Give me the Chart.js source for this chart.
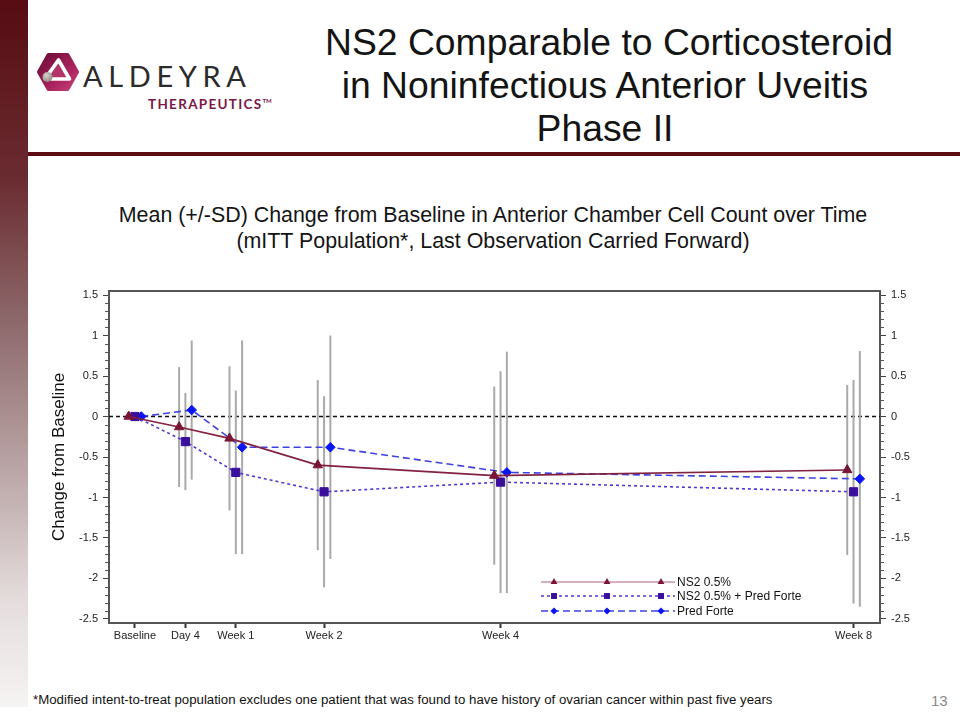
<!DOCTYPE html>
<html>
<head>
<meta charset="utf-8">
<script src="https://cdn.jsdelivr.net/npm/chart.js@4/dist/chart.umd.min.js"></script>
<style>
  html, body { margin: 0; padding: 0; background: #fff; width: 960px; height: 720px; overflow: hidden; }
  body { position: relative; font-family: "Liberation Sans", Arial, sans-serif; color: #111; }
  #sidebar { position: absolute; left: 0; top: 0; width: 28px; height: 707px;
    background: linear-gradient(to bottom, #560c12 0%, #6a2b30 25%, #8c676a 45%, #b7a1a2 65%, #e5dddd 85%, #f6f3f3 100%); }
  #rule { position: absolute; left: 28px; top: 152px; width: 932px; height: 4px; background: #5c0b10; }
  #title { position: absolute; left: 325px; width: 560px; top: 21px; text-align: center;
    font-size: 37.3px; line-height: 43px; color: #141414; white-space: nowrap; }
  #subtitle { position: absolute; left: 93px; width: 800px; top: 202px; text-align: center;
    font-size: 21.4px; line-height: 26px; color: #141414; white-space: nowrap; }
  #foot { position: absolute; left: 33px; top: 692px; font-size: 13.25px; line-height: 16px; color: #111; white-space: nowrap; }
  #page { position: absolute; left: 931px; top: 692px; font-size: 15px; line-height: 18px; color: #8a8a8a; }
  #logoText { position: absolute; left: 83px; top: 59px; font-family: Lato, "Liberation Sans", sans-serif; font-weight: 400;
    font-size: 29px; line-height: 34px; letter-spacing: 5.6px; color: #2b2b2b; white-space: nowrap; }
  #logoSub { position: absolute; left: 148px; top: 93px; font-family: Lato, "Liberation Sans", sans-serif; font-weight: 700;
    font-size: 13.5px; line-height: 16px; letter-spacing: 1.3px; color: #7a1848; white-space: nowrap; }
  #logoSub sup { font-size: 6px; vertical-align: 6px; letter-spacing: 0; }
  canvas { position: absolute; left: 0; top: 0; }
</style>
</head>
<body>
<div id="sidebar"></div>
<div id="rule"></div>
<svg style="position:absolute;left:35px;top:51px" width="46" height="42" viewBox="0 0 46 42">
  <defs>
    <linearGradient id="hexg" x1="0" y1="0" x2="1" y2="1">
      <stop offset="0" stop-color="#6a0d36"/>
      <stop offset="0.6" stop-color="#a8215c"/>
      <stop offset="1" stop-color="#c8407a"/>
    </linearGradient>
    <radialGradient id="ballg" cx="0.4" cy="0.35" r="0.7">
      <stop offset="0" stop-color="#d8d4ce"/>
      <stop offset="1" stop-color="#8c867e"/>
    </radialGradient>
  </defs>
  <polygon points="4,21 13.5,4 32.5,4 42,21 32.5,38 13.5,38" fill="url(#hexg)" stroke="url(#hexg)" stroke-width="4" stroke-linejoin="round"/>
  <polygon points="23.5,9 34.5,28 10,28" fill="#b2336a" stroke="#ffffff" stroke-width="3.6" stroke-linejoin="round"/>
  <circle cx="12.5" cy="26" r="5" fill="url(#ballg)"/>
</svg>
<div id="logoText">ALDEYRA</div>
<div id="logoSub">THERAPEUTICS<sup>TM</sup></div>
<div id="title">NS2 Comparable to Corticosteroid<br>in Noninfectious Anterior Uveitis<br>Phase II</div>
<div id="subtitle">Mean (+/-SD) Change from Baseline in Anterior Chamber Cell Count over Time<br>(mITT Population*, Last Observation Carried Forward)</div>
<div id="foot">*Modified intent-to-treat population excludes one patient that was found to have history of ovarian cancer within past five years</div>
<div id="page">13</div>
<canvas id="c" width="960" height="720"></canvas>
<script>
// ---- data ----
const categories = ['Baseline', 'Day 4', 'Week 1', 'Week 2', 'Week 4', 'Week 8'];
const visitDays = [0, 4, 8, 15, 29, 57];
const seriesNames = ['NS2 0.5%', 'NS2 0.5% + Pred Forte', 'Pred Forte'];
const meanNS2 = [0, -0.13, -0.27, -0.60, -0.73, -0.66];
const sdNS2 = [0, 0.74, 0.89, 1.05, 1.10, 1.05];
const meanCombo = [0, -0.31, -0.69, -0.93, -0.81, -0.93];
const sdCombo = [0, 0.60, 1.01, 1.18, 1.37, 1.38];
const meanPF = [0, 0.08, -0.38, -0.38, -0.69, -0.77];
const sdPF = [0, 0.86, 1.32, 1.38, 1.49, 1.58];
const yTickValues = [-2.5, -2, -1.5, -1, -0.5, 0, 0.5, 1, 1.5];
const yAxisTitle = 'Change from Baseline';

// ---- presentation ----
const FONT = '"Liberation Sans", Arial, sans-serif';
const jitter = [-0.5, 0, 0.5];
const means = [meanNS2, meanCombo, meanPF];
const sds = [sdNS2, sdCombo, sdPF];
const styles = [
  { line: '#83213f', fill: '#7a1536', dash: [], shape: 'triangle', r: 5.4, lr: 4 },
  { line: '#5338d0', fill: '#3a0f9c', dash: [3, 3], shape: 'rect', r: 5.8, lr: 4.2 },
  { line: '#3d42e2', fill: '#0a16f2', dash: [7, 4], shape: 'rectRot', r: 4.8, lr: 3.6 }
];

const datasets = seriesNames.map((name, s) => ({
  label: name,
  data: visitDays.map((d, i) => ({ x: d + jitter[s], y: means[s][i] })),
  borderColor: styles[s].line,
  borderWidth: 1.6,
  borderDash: styles[s].dash,
  backgroundColor: styles[s].fill,
  pointBackgroundColor: styles[s].fill,
  pointBorderColor: styles[s].fill,
  pointBorderWidth: 1,
  pointStyle: styles[s].shape,
  pointRadius: styles[s].r,
  tension: 0,
  fill: false,
  yAxisID: 'y'
}));

function drawMarker(ctx, shape, x, y, r, color) {
  ctx.save();
  ctx.fillStyle = color;
  ctx.beginPath();
  if (shape === 'triangle') {
    ctx.moveTo(x, y - r);
    ctx.lineTo(x + r * 0.866, y + r * 0.5);
    ctx.lineTo(x - r * 0.866, y + r * 0.5);
  } else if (shape === 'rect') {
    const h = r * Math.SQRT1_2;
    ctx.rect(x - h, y - h, 2 * h, 2 * h);
  } else {
    ctx.moveTo(x, y - r); ctx.lineTo(x + r, y); ctx.lineTo(x, y + r); ctx.lineTo(x - r, y);
  }
  ctx.closePath();
  ctx.fill();
  ctx.restore();
}

const decorations = {
  id: 'decorations',
  beforeDatasetsDraw(chart) {
    const { ctx, chartArea: a, scales } = chart;
    const ys = scales.y;
    ctx.save();
    // zero reference line
    const y0 = ys.getPixelForValue(0);
    ctx.strokeStyle = '#111';
    ctx.lineWidth = 1.5;
    ctx.setLineDash([4, 3]);
    ctx.beginPath(); ctx.moveTo(a.left, y0); ctx.lineTo(a.right, y0); ctx.stroke();
    ctx.setLineDash([]);
    // error bars (mean +/- SD)
    ctx.strokeStyle = '#a9a9a9';
    ctx.lineWidth = 2;
    chart.data.datasets.forEach((ds, s) => {
      const meta = chart.getDatasetMeta(s);
      meta.data.forEach((pt, i) => {
        const sd = sds[s][i];
        if (!sd) return;
        const top = ys.getPixelForValue(means[s][i] + sd);
        const bot = ys.getPixelForValue(means[s][i] - sd);
        ctx.beginPath(); ctx.moveTo(pt.x, top); ctx.lineTo(pt.x, bot); ctx.stroke();
      });
    });
    ctx.restore();
  },
  afterDraw(chart) {
    const { ctx, chartArea: a, scales } = chart;
    ctx.save();
    // top frame line
    ctx.strokeStyle = '#555';
    ctx.lineWidth = 2;
    ctx.beginPath(); ctx.moveTo(a.left - 1, a.top); ctx.lineTo(a.right + 1, a.top); ctx.stroke();
    // minor ticks on both y axes
    ctx.strokeStyle = '#555';
    ctx.lineWidth = 1;
    for (let k = -25; k <= 15; k++) {
      if (k % 5 === 0) continue;
      const y = Math.round(scales.y.getPixelForValue(k / 10)) + 0.5;
      ctx.beginPath();
      ctx.moveTo(a.left - 4, y); ctx.lineTo(a.left, y);
      ctx.moveTo(a.right, y); ctx.lineTo(a.right + 4, y);
      ctx.stroke();
    }
    // legend
    const rowsY = [582, 596, 611];
    const lx0 = 541, lx1 = 675, marks = [554, 607, 661];
    ctx.font = '12px ' + FONT;
    ctx.textBaseline = 'middle';
    ctx.textAlign = 'left';
    seriesNames.forEach((name, s) => {
      const st = styles[s];
      const y = rowsY[s];
      ctx.strokeStyle = s === 0 ? '#b06078' : st.line;
      ctx.lineWidth = s === 0 ? 1 : 1.4;
      ctx.setLineDash(st.dash);
      ctx.beginPath(); ctx.moveTo(lx0, y); ctx.lineTo(lx1, y); ctx.stroke();
      ctx.setLineDash([]);
      marks.forEach(mx => drawMarker(ctx, st.shape, mx, y, st.lr, st.fill));
      ctx.fillStyle = '#111';
      ctx.fillText(name, lx1 + 2, y + 0.5);
    });
    ctx.restore();
  }
};

const yTicksCfg = {
  font: { family: FONT, size: 11 },
  color: '#222',
  padding: 5,
  callback: v => String(v)
};

new Chart(document.getElementById('c'), {
  type: 'line',
  data: { datasets },
  options: {
    responsive: false,
    animation: false,
    devicePixelRatio: 1,
    layout: { padding: { left: 49, top: 291, right: 20, bottom: 67 } },
    plugins: { legend: { display: false }, tooltip: { enabled: false }, title: { display: false } },
    scales: {
      x: {
        type: 'linear',
        position: 'bottom',
        min: -2.06,
        max: 59.1,
        afterBuildTicks: sc => { sc.ticks = visitDays.map(v => ({ value: v })); },
        afterFit: sc => { sc.height = 30; },
        ticks: {
          autoSkip: false, maxRotation: 0, padding: 1,
          font: { family: FONT, size: 11 }, color: '#222',
          callback: v => { const i = visitDays.indexOf(v); return i >= 0 ? categories[i] : ''; }
        },
        grid: { drawOnChartArea: false, drawTicks: true, tickLength: 5, tickColor: '#333', tickWidth: 2 },
        border: { color: '#555', width: 2 }
      },
      y: {
        type: 'linear',
        position: 'left',
        min: -2.55,
        max: 1.55,
        afterBuildTicks: sc => { sc.ticks = yTickValues.map(v => ({ value: v })); },
        afterFit: sc => { sc.width = 60; },
        ticks: yTicksCfg,
        title: { display: true, text: yAxisTitle, font: { family: FONT, size: 17 }, color: '#111', padding: 0 },
        grid: { drawOnChartArea: false, drawTicks: true, tickLength: 6, tickColor: '#444', tickWidth: 1 },
        border: { color: '#555', width: 2 }
      },
      y2: {
        type: 'linear',
        position: 'right',
        min: -2.55,
        max: 1.55,
        afterBuildTicks: sc => { sc.ticks = yTickValues.map(v => ({ value: v })); },
        afterFit: sc => { sc.width = 60; },
        ticks: yTicksCfg,
        grid: { drawOnChartArea: false, drawTicks: true, tickLength: 6, tickColor: '#444', tickWidth: 1 },
        border: { color: '#555', width: 2 }
      }
    }
  },
  plugins: [decorations]
});
</script>
</body>
</html>
